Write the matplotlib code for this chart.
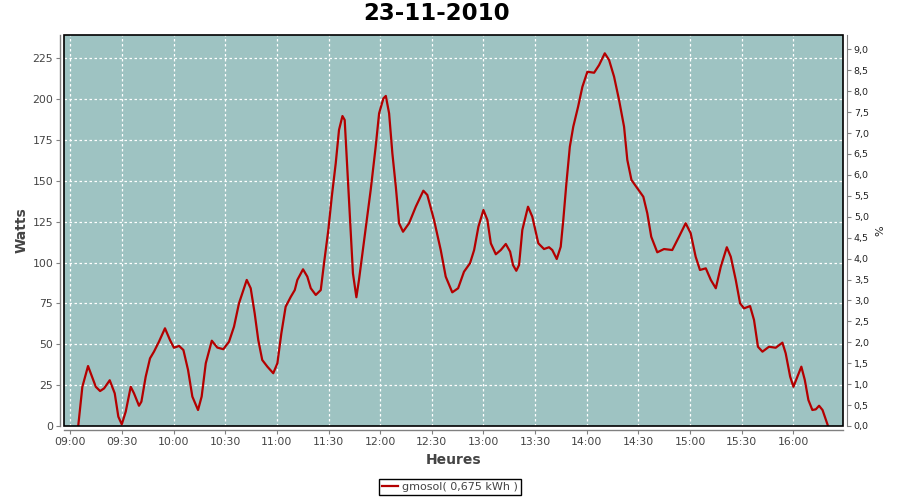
import matplotlib
matplotlib.use("Agg")
import matplotlib.pyplot as plt
import matplotlib.dates as mdates
from matplotlib.patches import Rectangle
from matplotlib.ticker import FuncFormatter
import pandas as pd

title = "23-11-2010"
series_name = "gmosol( 0,675 kWh )"
x_label = "Heures"
y_label = "Watts"
y2_label = "%"

# minutes after 09:00
minutes = [
    4.6, 7.0, 10.3, 14.8, 17.3, 19.6, 22.9, 25.8, 27.9, 29.9,
    32.2, 35.1, 37.0, 39.9, 41.3, 43.8, 46.3, 48.6, 51.5, 55.0,
    57.9, 60.2, 63.2, 65.7, 68.4, 70.9, 74.2, 76.3, 78.7, 82.2,
    85.4, 88.9, 92.2, 95.1, 98.0, 102.5, 104.8, 107.1, 109.2, 111.5,
    114.5, 117.9, 120.3, 122.6, 125.1, 128.1, 130.4, 131.9, 135.2, 137.7,
    139.7, 142.6, 145.5, 147.4, 149.9, 151.9, 154.2, 156.1, 158.1, 159.4,
    161.3, 162.9, 164.2, 166.2, 167.7, 169.7, 172.2, 174.5, 177.4, 179.4,
    181.9, 183.3, 185.2, 187.1, 189.1, 191.0, 193.3, 196.8, 200.7, 205.1,
    207.4, 211.3, 215.2, 218.1, 221.9, 225.3, 228.7, 232.2, 234.6, 237.1,
    240.0, 242.3, 244.3, 247.2, 250.1, 253.0, 255.5, 257.2, 259.1, 260.7,
    262.6, 265.9, 268.4, 271.9, 275.2, 278.1, 280.0, 282.6, 284.9, 286.4,
    288.2, 290.2, 292.2, 295.0, 297.5, 300.4, 304.3, 307.2, 310.5, 313.0,
    315.9, 318.8, 321.7, 323.6, 326.0, 329.4, 332.9, 335.2, 337.5, 341.0,
    344.9, 349.7, 353.6, 357.5, 360.4, 363.3, 365.8, 369.2, 372.1, 375.0,
    377.9, 381.4, 383.7, 386.6, 389.1, 391.4, 394.9, 397.2, 399.5, 402.1,
    405.9, 409.8, 413.7, 415.6, 418.2, 420.1, 422.4, 424.7, 426.7, 428.8,
    431.1, 433.1, 435.0, 437.0, 440.2,
]

watts = [
    0, 24, 36.7, 24, 21.4, 23, 28, 20, 5.7, 1,
    8.8, 24, 20, 12.4, 14.9, 30.2, 41.4, 45.5, 51.6, 59.8,
    52.6, 47.9, 49, 46.5, 34.3, 18, 9.8, 18, 38.4, 52.2,
    48, 47, 51.6, 60.8, 75.1, 89.4, 84.3, 69, 52.6, 40.4,
    36.3, 32.3, 38.4, 56.7, 73, 79.1, 83.2, 89.4, 95.9, 91.4,
    84.3, 80.2, 83.2, 99.6, 120, 140.3, 160.8, 181.2, 189.7, 187.3,
    150.6, 120, 93.4, 78.8, 89.4, 105.7, 126.1, 144.4, 170.9, 191.4,
    200.5, 202, 191.4, 166.9, 146.5, 124.1, 118.9, 124.1, 134.2, 144,
    141.4, 126.1, 107.7, 91.4, 81.8, 84.3, 94.4, 99.6, 107.7, 122,
    132.2, 126.1, 111.8, 105.1, 107.7, 111.4, 106.7, 98.5, 95, 98.5,
    120, 134.2, 128.1, 111.8, 108.3, 109.4, 107.7, 102.2, 109.7, 126.1,
    148.5, 170.9, 183.2, 195.4, 207.6, 216.8, 216.2, 220.9, 228.1, 224,
    213.8, 199.5, 183.2, 162.8, 150.6, 145.5, 140.3, 130.2, 115.8, 106.3,
    108.3, 107.7, 115.8, 124.1, 118, 103.6, 95.5, 96.5, 89.4, 84.3,
    97.5, 109.4, 103.6, 89.4, 75.1, 72, 73.4, 64.9, 48.5, 45.5,
    48.5, 47.9, 51, 44.5, 30.2, 24, 30.2, 36.3, 28.2, 15.9,
    9.8, 10.2, 12.4, 9.8, 0,
]

y_ticks = [0, 25, 50, 75, 100, 125, 150, 175, 200, 225]
y2_ticks = [i * 0.5 for i in range(19)]

base = pd.Timestamp("2010-11-23 09:00")
times = base + pd.to_timedelta(minutes, unit="min")

BG = "#9EC3C2"
LINE = "#B40000"
AX_GRAY = "#808080"
TXT = "#444444"

fig = plt.figure(figsize=(9, 5), dpi=100)
ax = fig.add_axes([64 / 900, 1 - 426 / 500, (843 - 64) / 900, (426 - 35) / 500])
ax.set_facecolor(BG)
line, = ax.plot(times, watts, color=LINE, linewidth=1.6, label=series_name, zorder=3)

ax.set_xlim(base + pd.Timedelta(seconds=-220), base + pd.Timedelta(seconds=448.9 * 60))
ax.set_ylim(0, 239.3)
ax.set_yticks(y_ticks)
ax.xaxis.set_major_locator(mdates.MinuteLocator(byminute=[0, 30]))
ax.xaxis.set_major_formatter(mdates.DateFormatter("%H:%M"))

ax.grid(True, color="white", linestyle=(0, (2, 2)), linewidth=0.9)
ax.set_axisbelow(True)

for side in ["top", "right"]:
    ax.spines[side].set_visible(False)
for side in ["left", "bottom"]:
    ax.spines[side].set_position(("outward", 2.8))
    ax.spines[side].set_color(AX_GRAY)
    ax.spines[side].set_linewidth(1)
ax.tick_params(axis="both", direction="out", length=3, width=0.8, color=AX_GRAY,
               labelcolor=TXT, labelsize=7.8, pad=2)

ax.set_xlabel(x_label, fontsize=10, fontweight="bold", color=TXT)
ax.set_ylabel(y_label, fontsize=10, fontweight="bold", color=TXT)
ax.xaxis.set_label_coords(0.5, (426 - 453) / 391)
ax.yaxis.set_label_coords((29 - 64) / 779, 0.5)

ax2 = ax.twinx()
ax2.set_ylim(0, 9.343)
ax2.set_yticks(y2_ticks)
ax2.yaxis.set_major_formatter(FuncFormatter(lambda v, p: f"{v:.1f}".replace(".", ",")))
for side in ["top", "left", "bottom"]:
    ax2.spines[side].set_visible(False)
ax2.spines["right"].set_position(("outward", 2.8))
ax2.spines["right"].set_color(AX_GRAY)
ax2.tick_params(axis="y", direction="out", length=3, width=0.8, color=AX_GRAY,
                labelcolor="#222222", labelsize=6.8, pad=2)
ax2.set_ylabel(y2_label, fontsize=8, color="#222222", rotation=90)
ax2.yaxis.set_label_coords((875 - 64) / 779, 0.5)

ax2.add_patch(Rectangle((0, 0), 1, 1, transform=ax2.transAxes, fill=False,
                        edgecolor="black", linewidth=1.2, clip_on=False, zorder=10))

fig.text(437 / 900, 1 - 14 / 500, title, ha="center", va="center",
         fontsize=16.5, fontweight="bold", color="black")

leg = fig.legend(handles=[line], loc="center", bbox_to_anchor=(450 / 900, 1 - 487 / 500),
                 fontsize=8, frameon=True, fancybox=False, shadow=False,
                 handlelength=1.4, handletextpad=0.4, borderpad=0.3, borderaxespad=0)
leg.get_frame().set_edgecolor("black")
leg.get_frame().set_linewidth(1)
leg.get_frame().set_alpha(1)
for t in leg.get_texts():
    t.set_color(TXT)

fig.savefig("out.png", dpi=100)
